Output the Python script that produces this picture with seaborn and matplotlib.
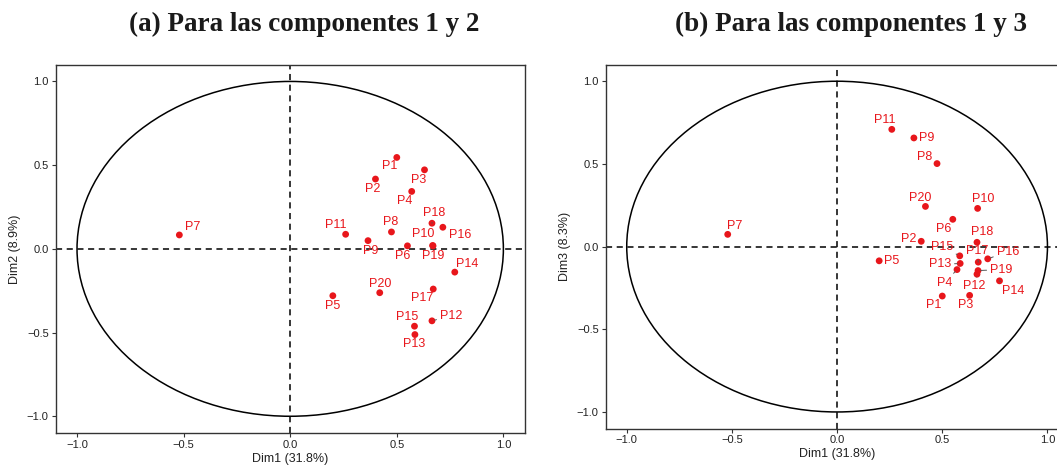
import numpy as np
import pandas as pd
import matplotlib
matplotlib.use("Agg")
import matplotlib.pyplot as plt
from matplotlib.patches import Circle
import seaborn as sns

# ---- data ----
variables = ["P1", "P2", "P3", "P4", "P5", "P6", "P7", "P8", "P9", "P10",
             "P11", "P12", "P13", "P14", "P15", "P16", "P17", "P18", "P19", "P20"]
dim1 = [0.50, 0.40, 0.63, 0.57, 0.20, 0.55, -0.52, 0.475, 0.365, 0.668,
        0.26, 0.665, 0.585, 0.772, 0.583, 0.716, 0.671, 0.665, 0.670, 0.42]
dim2 = [0.546, 0.417, 0.472, 0.343, -0.280, 0.018, 0.083, 0.101, 0.049, 0.020,
        0.087, -0.430, -0.512, -0.139, -0.462, 0.129, -0.240, 0.153, 0.018, -0.262]
dim3 = [-0.299, 0.032, -0.295, -0.139, -0.086, 0.165, 0.074, 0.502, 0.657, 0.231,
        0.709, -0.167, -0.102, -0.207, -0.056, -0.074, -0.094, 0.026, -0.145, 0.243]
titles = ["(a) Para las componentes 1 y 2", "(b) Para las componentes 1 y 3"]
xlabel = "Dim1 (31.8%)"
ylabels = ["Dim2 (8.9%)", "Dim3 (8.3%)"]
ticks = [-1.0, -0.5, 0.0, 0.5, 1.0]

df = pd.DataFrame({"var": variables, "Dim1": dim1, "Dim2": dim2, "Dim3": dim3})

# ---- label placement (pixel offsets: dx right, dy down) ----
offs_a = {"P1": (-7, 9), "P2": (-3, 10), "P3": (-6, 10), "P4": (-7, 10), "P5": (0, 10),
          "P6": (-5, 10), "P7": (13, -8), "P8": (-1, -10), "P9": (3, 10), "P10": (-9, -12),
          "P11": (-10, -9), "P12": (19, -5), "P13": (-1, 9), "P14": (12, -8), "P15": (-7, -9),
          "P16": (17, 8), "P17": (-11, 9), "P18": (2, -10), "P19": (0, 10), "P20": (0, -9)}
seg_a = {"P18", "P12"}
offs_b = {"P1": (-9, 9), "P2": (-13, -2), "P3": (-4, 10), "P4": (-12, 13), "P5": (12, 0),
          "P6": (-9, 10), "P7": (7, -8), "P8": (-12, -7), "P9": (13, 0), "P10": (6, -9),
          "P11": (-7, -9), "P12": (-3, 12), "P13": (-20, 1), "P14": (14, 10), "P15": (-18, -9),
          "P16": (20, -7), "P17": (-1, -11), "P18": (5, -10), "P19": (23, -1), "P20": (-5, -8)}
seg_b = {"P15", "P17", "P16", "P13", "P4", "P19", "P12", "P14"}

sns.set_theme(style="white")
plt.rcParams["font.family"] = ["Liberation Sans", "DejaVu Sans"]

W, H = 1057, 465
fig = plt.figure(figsize=(W / 100, H / 100), dpi=100)
pos = [(55.7, 64.7, 524.7, 433.0), (605.7, 64.7, 1068.5, 428.5)]
red = "#e8161b"

for i, (ycol, offs, segs) in enumerate([("Dim2", offs_a, seg_a), ("Dim3", offs_b, seg_b)]):
    l, t, r, b = pos[i]
    ax = fig.add_axes([l / W, 1 - b / H, (r - l) / W, (b - t) / H])
    ax.set_xlim(-1.1, 1.1)
    ax.set_ylim(-1.1, 1.1)
    ax.add_patch(Circle((0, 0), 1.0, fill=False, ec="black", lw=1.1, zorder=1))
    ax.axhline(0, color="black", ls=(0, (4, 3)), lw=1.1, zorder=1)
    ax.axvline(0, color="black", ls=(0, (4, 3)), lw=1.1, zorder=1)
    sns.scatterplot(data=df, x="Dim1", y=ycol, ax=ax, color=red, s=24,
                    edgecolor="none", zorder=3, legend=False)
    for _, row in df.iterrows():
        dx, dy = offs[row["var"]]
        kw = {}
        if row["var"] in segs:
            kw["arrowprops"] = dict(arrowstyle="-", color="#555555", lw=0.7,
                                    shrinkA=0, shrinkB=2)
        ax.annotate(row["var"], (row["Dim1"], row[ycol]), xytext=(dx, -dy),
                    textcoords="offset pixels", ha="center", va="center",
                    color=red, fontsize=9, zorder=4, **kw)
    ax.set_xticks(ticks)
    ax.set_yticks(ticks)
    ax.set_xticklabels([f"{v:.1f}".replace("-", "\u2212") for v in ticks])
    ax.set_yticklabels([f"{v:.1f}".replace("-", "\u2212") for v in ticks])
    ax.tick_params(axis="both", labelsize=8, length=3, width=0.8, color="#333333",
                   direction="out", left=True, bottom=True, pad=2, labelcolor="#222222")
    for sp in ax.spines.values():
        sp.set_color("#333333")
        sp.set_linewidth(1.0)
    ax.set_xlabel(xlabel, fontsize=9, labelpad=2, color="#222222")
    ax.set_ylabel(ylabels[i], fontsize=9, labelpad=4, color="#222222")

fig.text(304 / W, 1 - 24 / H, titles[0], ha="center", va="center", fontsize=19.5,
         fontweight="bold", family=["Liberation Serif", "DejaVu Serif"], color="#1a1a1a")
fig.text(851 / W, 1 - 24 / H, titles[1], ha="center", va="center", fontsize=19.5,
         fontweight="bold", family=["Liberation Serif", "DejaVu Serif"], color="#1a1a1a")

fig.savefig("out.png", dpi=100)
